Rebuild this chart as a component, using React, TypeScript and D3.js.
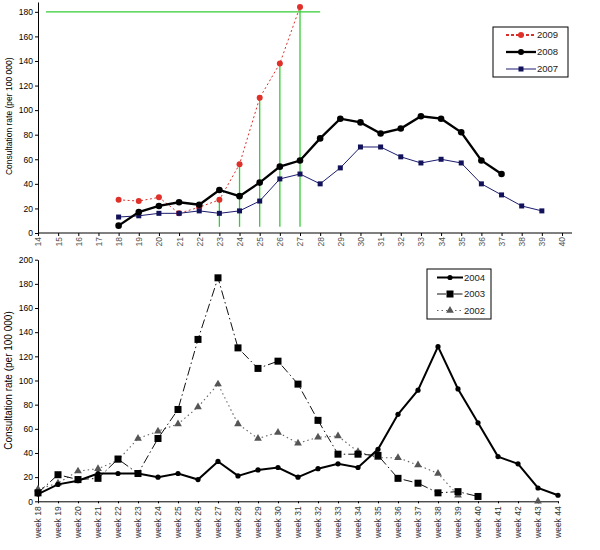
import React, { useEffect, useRef } from 'react';
import * as d3 from 'd3';

// top panel: weeks 14..40, seasons 2007-2009
const topWeeks = [14, 15, 16, 17, 18, 19, 20, 21, 22, 23, 24, 25, 26, 27, 28, 29, 30, 31, 32, 33, 34, 35, 36, 37, 38, 39, 40];
const topYTicks = [0, 20, 40, 60, 80, 100, 120, 140, 160, 180];
const weeks2009 = [18, 19, 20, 21, 22, 23, 24, 25, 26, 27];
const rate2009 = [27, 26, 29, 16, 21, 27, 56, 110, 138, 184];
const weeks2008 = [18, 19, 20, 21, 22, 23, 24, 25, 26, 27, 28, 29, 30, 31, 32, 33, 34, 35, 36, 37];
const rate2008 = [6, 17, 22, 25, 23, 35, 30, 41, 54, 59, 77, 93, 90, 81, 85, 95, 93, 82, 59, 48];
const weeks2007 = [18, 19, 20, 21, 22, 23, 24, 25, 26, 27, 28, 29, 30, 31, 32, 33, 34, 35, 36, 37, 38, 39];
const rate2007 = [13, 14, 16, 16, 18, 16, 18, 26, 44, 48, 40, 53, 70, 70, 62, 57, 60, 57, 40, 31, 22, 18];
// green guide lines
const guideWeeks = [23, 24, 25, 26, 27];
const guideLevel = 180;
const guideFloor = 5;
const guideSpan = [14.4, 28];

// bottom panel: weeks 18..44, seasons 2002-2004
const bottomWeeks = [18, 19, 20, 21, 22, 23, 24, 25, 26, 27, 28, 29, 30, 31, 32, 33, 34, 35, 36, 37, 38, 39, 40, 41, 42, 43, 44];
const bottomYTicks = [0, 20, 40, 60, 80, 100, 120, 140, 160, 180, 200];
const rate2004 = [6, 14, 17, 23, 23, 23, 20, 23, 18, 33, 21, 26, 28, 20, 27, 31, 28, 43, 72, 92, 128, 93, 65, 37, 31, 11, 5];
const rate2003 = [7, 22, 18, 19, 35, 23, 52, 76, 134, 185, 127, 110, 116, 97, 67, 39, 39, 38, 19, 15, 7, 8, 4];
const rate2002 = [10, 15, 25, 27, 34, 52, 58, 64, 78, 97, 64, 52, 57, 48, 53, 54, 41, 36, 36, 30, 23, 5, null, null, null, 0];

const FONT = '"Liberation Sans", Arial, sans-serif';
const YLABEL = 'Consultation rate (per 100 000)';

type Pt = { w: number; v: number | null };
const zip = (ws: number[], vs: (number | null)[]): Pt[] => vs.map((v, i) => ({ w: ws[i], v }));

const App = () => {
  const ref = useRef<SVGSVGElement>(null);

  useEffect(() => {
    const svg = d3.select(ref.current);
    svg.selectAll('*').remove();
    svg.style('font-family', FONT);

    // ---------- top panel ----------
    const x = d3.scaleLinear().domain([14, 40]).range([38, 562]);
    const y = d3.scaleLinear().domain([0, 188]).range([233, 2]);
    const top = svg.append('g');

    top
      .append('g')
      .attr('transform', `translate(${x.range()[0]},0)`)
      .call(d3.axisLeft(y).tickValues(topYTicks).tickSize(3).tickSizeOuter(0).tickPadding(2))
      .call((g) => g.selectAll('text').attr('font-size', 8.5).attr('font-family', FONT).attr('fill', '#000'));
    top
      .append('g')
      .attr('transform', `translate(0,${y(0)})`)
      .call(d3.axisBottom(x).tickValues(topWeeks).tickFormat((d) => String(d)).tickSize(3).tickSizeOuter(0))
      .call((g) => g.select('.domain').remove())
      .call((g) =>
        g
          .selectAll('text')
          .attr('font-size', 8.5)
          .attr('font-family', FONT)
          .attr('fill', '#555')
          .attr('transform', 'rotate(-90)')
          .attr('x', -4)
          .attr('y', 0)
          .attr('dy', '0.35em')
          .style('text-anchor', 'end'),
      );
    top
      .append('line')
      .attr('x1', x(14))
      .attr('x2', x(40) + 10)
      .attr('y1', y(0))
      .attr('y2', y(0))
      .attr('stroke', '#000');
    top
      .append('text')
      .attr('transform', `translate(12,${y(95)}) rotate(-90)`)
      .attr('text-anchor', 'middle')
      .attr('font-size', 8.5)
      .text(YLABEL);

    // green guides
    const vals2009 = new Map(weeks2009.map((w, i) => [w, rate2009[i]]));
    top
      .append('line')
      .attr('x1', x(guideSpan[0]))
      .attr('x2', x(guideSpan[1]))
      .attr('y1', y(guideLevel))
      .attr('y2', y(guideLevel))
      .attr('stroke', '#33cc33')
      .attr('stroke-width', 1.3);
    top
      .append('g')
      .selectAll('line')
      .data(guideWeeks)
      .join('line')
      .attr('x1', (d) => x(d))
      .attr('x2', (d) => x(d))
      .attr('y1', (d) => y(vals2009.get(d) || 0))
      .attr('y2', y(guideFloor))
      .attr('stroke', '#33cc33')
      .attr('stroke-width', 1.3);

    const line = d3
      .line<Pt>()
      .defined((d) => d.v !== null)
      .x((d) => x(d.w))
      .y((d) => y(d.v as number));

    const d2009 = zip(weeks2009, rate2009);
    const d2007 = zip(weeks2007, rate2007);
    const d2008 = zip(weeks2008, rate2008);

    top.append('path').datum(d2009).attr('d', line).attr('fill', 'none').attr('stroke', '#d9302a').attr('stroke-width', 1).attr('stroke-dasharray', '2,2.5');
    top.append('g').selectAll('circle').data(d2009).join('circle').attr('cx', (d) => x(d.w)).attr('cy', (d) => y(d.v as number)).attr('r', 3).attr('fill', '#e0302a');

    top.append('path').datum(d2007).attr('d', line).attr('fill', 'none').attr('stroke', '#1c1c70').attr('stroke-width', 1);
    top.append('g').selectAll('rect').data(d2007).join('rect').attr('x', (d) => x(d.w) - 2.5).attr('y', (d) => y(d.v as number) - 2.5).attr('width', 5).attr('height', 5).attr('fill', '#12125a');

    top.append('path').datum(d2008).attr('d', line).attr('fill', 'none').attr('stroke', '#000').attr('stroke-width', 2.3);
    top.append('g').selectAll('circle').data(d2008).join('circle').attr('cx', (d) => x(d.w)).attr('cy', (d) => y(d.v as number)).attr('r', 3.3).attr('fill', '#000');

    // top legend
    const lg = top.append('g').attr('transform', 'translate(493,27)');
    lg.append('rect').attr('width', 75).attr('height', 50).attr('fill', '#fff').attr('stroke', '#000').attr('stroke-width', 1);
    const topLegend = [
      { label: '2009', color: '#d9302a', width: 1.8, dash: '3,2', mark: 'circle', mcolor: '#e0302a' },
      { label: '2008', color: '#000', width: 2.3, dash: null, mark: 'circle', mcolor: '#000' },
      { label: '2007', color: '#1c1c70', width: 1, dash: null, mark: 'square', mcolor: '#12125a' },
    ];
    topLegend.forEach((e, i) => {
      const yy = 8 + i * 17;
      lg.append('line').attr('x1', 13).attr('x2', 43).attr('y1', yy).attr('y2', yy).attr('stroke', e.color).attr('stroke-width', e.width).attr('stroke-dasharray', e.dash);
      if (e.mark === 'circle') lg.append('circle').attr('cx', 28).attr('cy', yy).attr('r', 3).attr('fill', e.mcolor);
      else lg.append('rect').attr('x', 25.5).attr('y', yy - 2.5).attr('width', 5).attr('height', 5).attr('fill', e.mcolor);
      lg.append('text').attr('x', 44).attr('y', yy).attr('dy', '0.35em').attr('font-size', 9.5).attr('fill', '#222').text(e.label);
    });

    // ---------- bottom panel ----------
    const xb = d3.scaleLinear().domain([18, 44]).range([38, 558]);
    const yb = d3.scaleLinear().domain([0, 200]).range([501.3, 259.7]);
    const bot = svg.append('g');

    bot
      .append('g')
      .attr('transform', `translate(${xb.range()[0]},0)`)
      .call(d3.axisLeft(yb).tickValues(bottomYTicks).tickSize(3).tickSizeOuter(0).tickPadding(2))
      .call((g) => g.selectAll('text').attr('font-size', 8.5).attr('font-family', FONT).attr('fill', '#000'));
    bot
      .append('g')
      .attr('transform', `translate(0,${yb(0)})`)
      .call(d3.axisBottom(xb).tickValues(bottomWeeks).tickFormat((d) => `week ${d}`).tickSize(2).tickSizeOuter(0))
      .call((g) =>
        g
          .selectAll('text')
          .attr('font-size', 8.5)
          .attr('font-family', FONT)
          .attr('fill', '#333')
          .attr('transform', 'rotate(-90)')
          .attr('x', -5)
          .attr('y', 0)
          .attr('dy', '0.35em')
          .style('text-anchor', 'end'),
      );
    bot
      .append('text')
      .attr('transform', `translate(12,${yb(100)}) rotate(-90)`)
      .attr('text-anchor', 'middle')
      .attr('font-size', 10)
      .text(YLABEL);

    const lineB = d3
      .line<Pt>()
      .defined((d) => d.v !== null)
      .x((d) => xb(d.w))
      .y((d) => yb(d.v as number));

    const d2002 = zip(bottomWeeks, rate2002);
    const d2003 = zip(bottomWeeks, rate2003);
    const d2004 = zip(bottomWeeks, rate2004);
    const tri = d3.symbol().type(d3.symbolTriangle).size(26);

    bot.append('path').datum(d2002).attr('d', lineB).attr('fill', 'none').attr('stroke', '#666').attr('stroke-width', 1.1).attr('stroke-dasharray', '1.5,3');
    bot
      .append('g')
      .selectAll('path')
      .data(d2002.filter((d) => d.v !== null))
      .join('path')
      .attr('d', tri)
      .attr('transform', (d) => `translate(${xb(d.w)},${yb(d.v as number)})`)
      .attr('fill', '#555');

    bot.append('path').datum(d2003).attr('d', lineB).attr('fill', 'none').attr('stroke', '#111').attr('stroke-width', 1).attr('stroke-dasharray', '9,3,1.5,3');
    bot.append('g').selectAll('rect').data(d2003).join('rect').attr('x', (d) => xb(d.w) - 3.5).attr('y', (d) => yb(d.v as number) - 3.5).attr('width', 7).attr('height', 7).attr('fill', '#000');

    bot.append('path').datum(d2004).attr('d', lineB).attr('fill', 'none').attr('stroke', '#000').attr('stroke-width', 2);
    bot.append('g').selectAll('circle').data(d2004).join('circle').attr('cx', (d) => xb(d.w)).attr('cy', (d) => yb(d.v as number)).attr('r', 2.6).attr('fill', '#000');

    // bottom legend
    const lb = bot.append('g').attr('transform', 'translate(427,269)');
    lb.append('rect').attr('width', 64).attr('height', 50).attr('fill', '#fff').attr('stroke', '#000').attr('stroke-width', 1);
    const botLegend = [
      { label: '2004', color: '#000', width: 2, dash: null, mark: 'circle' },
      { label: '2003', color: '#111', width: 1, dash: '9,3,1.5,3', mark: 'square' },
      { label: '2002', color: '#666', width: 1.1, dash: '1.5,3', mark: 'triangle' },
    ];
    botLegend.forEach((e, i) => {
      const yy = 8.5 + i * 16.5;
      lb.append('line').attr('x1', 10).attr('x2', 36).attr('y1', yy).attr('y2', yy).attr('stroke', e.color).attr('stroke-width', e.width).attr('stroke-dasharray', e.dash);
      if (e.mark === 'circle') lb.append('circle').attr('cx', 23).attr('cy', yy).attr('r', 2.6).attr('fill', '#000');
      else if (e.mark === 'square') lb.append('rect').attr('x', 19.5).attr('y', yy - 3.5).attr('width', 7).attr('height', 7).attr('fill', '#000');
      else lb.append('path').attr('d', tri).attr('transform', `translate(23,${yy})`).attr('fill', '#555');
      lb.append('text').attr('x', 37).attr('y', yy).attr('dy', '0.35em').attr('font-size', 9.5).attr('fill', '#222').text(e.label);
    });
  }, []);

  return (
    <svg
      ref={ref}
      width={600}
      height={550}
      style={{ position: 'absolute', left: 0, top: 0, background: '#fff' }}
    />
  );
};

export default App;
